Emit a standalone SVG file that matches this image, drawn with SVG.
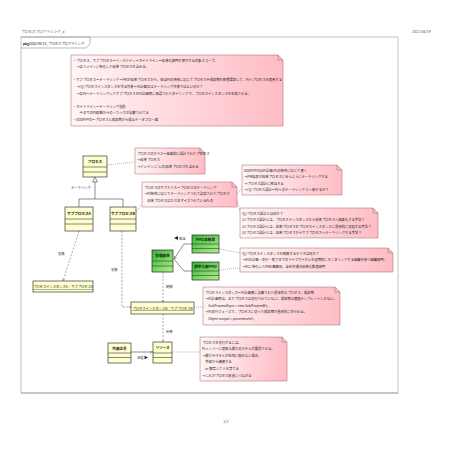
<svg xmlns="http://www.w3.org/2000/svg" width="453" height="453" viewBox="0 0 453 453">
<defs>
<linearGradient id="ng" x1="0" y1="0" x2="1" y2="0"><stop offset="0" stop-color="#fff5f5"/><stop offset="1" stop-color="#ffbcc4"/></linearGradient>
<linearGradient id="gg" x1="0" y1="0" x2="1" y2="1"><stop offset="0" stop-color="#2fb82f"/><stop offset="1" stop-color="#b4f08c"/></linearGradient>
<marker id="open" viewBox="0 0 10 10" refX="10" refY="5" markerWidth="5" markerHeight="5" orient="auto"><path d="M0,1 L10,5 L0,9" fill="none" stroke="#444" stroke-width="1.4"/></marker>
</defs>
<style>
.t{font-family:"Noto Sans CJK JP","Noto Sans",sans-serif;font-size:3.3px;fill:#222}
.b{font-weight:bold;font-size:3.6px;text-anchor:middle}
.m{text-anchor:middle}
.u{text-decoration:underline}
.hd{font-size:3.6px;fill:#555}
.note{fill:url(#ng);stroke:#a0606c;stroke-width:0.5}
.fold{fill:none;stroke:#a0606c;stroke-width:0.5}
.cls{fill:#fefece;stroke:#3a3a3a;stroke-width:0.7}
.grn{fill:url(#gg);stroke:#2a2a2a;stroke-width:0.7}
.sep{stroke:#3a3a3a;stroke-width:0.6}
.dot{fill:none;stroke:#666;stroke-width:0.5;stroke-dasharray:1 1}
.dash{fill:none;stroke:#555;stroke-width:0.5;stroke-dasharray:2 1.5}
.sol{fill:none;stroke:#444;stroke-width:0.6}
</style>
<rect width="453" height="453" fill="#fff"/>
<g id="page">
<text class="t hd" x="21" y="33">プロセスプログラミング_a</text>
<text class="t hd" x="412" y="33">2022/06/19</text>
<rect x="21" y="37" width="377" height="356" fill="none" stroke="#999" stroke-width="0.6"/>
<line x1="21" y1="393" x2="398" y2="393" stroke="#aaa" stroke-width="1.2"/>
<path d="M21,37 H90 V44 L86,48 H21" fill="none" stroke="#888" stroke-width="0.6"/>
<text class="t" x="23" y="45"><tspan font-weight="bold">pkg</tspan>2022/06/15_プロセスプログラミング</text>
<text class="t hd m" x="226" y="423">1/1</text>
</g>

<g id="connectors">
<path class="dot" d="M107,165 L135,162"/>
<path class="sol" d="M95,182 V199 M79,199 H123 M79,199 V207 M123,199 V207"/>
<path d="M95,177 L92.5,182 L97.5,182 Z" fill="#fff" stroke="#444" stroke-width="0.6"/>
<text class="t" x="71" y="189">テーラリング</text>
<path class="dot" d="M136,212 L142,204"/>
<path class="dot" d="M237,194 L242,188"/>
<path class="dot" d="M237,200 L240,211"/>
<path class="dash" d="M79,231 L63,281" marker-end="url(#open)"/>
<text class="t" x="58" y="255">実装</text>
<path class="dash" d="M122,231 V307 H131" marker-end="url(#open)"/>
<text class="t" x="111" y="271">実装</text>
<path class="sol" d="M192,244 H184 L174,259" marker-end="url(#open)"/>
<path class="sol" d="M192,271 H184 L174,259"/>
<path d="M174,238 L178,236 L178,240 Z" fill="#222"/>
<text class="t" x="179" y="239.5">担当</text>
<path class="dot" d="M219,249 L240,253"/>
<path class="dot" d="M219,270 L240,268"/>
<path class="dash" d="M163,272 V302" marker-end="url(#open)"/>
<text class="t" x="166" y="288">制御</text>
<path class="dot" d="M194,307 H203"/>
<path class="dash" d="M163,314 V342" marker-end="url(#open)"/>
<text class="t" x="166" y="333">利用</text>
<path class="sol" d="M131,352 H153" marker-end="url(#open)"/>
<text class="t" x="137" y="358.5">派遣</text>
<path d="M144.5,355.7 L148,357.5 L144.5,359.3 Z" fill="#222"/>
<path class="dot" d="M172,352 H200"/>
</g>

<g id="note-top">
<path class="note" d="M71,55 H278 L283,60 V126 H71 Z"/><path class="fold" d="M278,55 V60 H283"/>
<text class="t" x="73" y="61.5">・プロセス、サブプロセス＝ベースライン＝ガイドライン＝標準化部門が保守する対象スコープ。</text>
<text class="t" x="73" y="68.1">　→各ドメインに特化した標準プロセスを含める。</text>
<text class="t" x="73" y="81.3">・サブプロセス＝テーラリング＝PMが標準プロセスから、担当PJの特性に応じてプロセスや成果物を取捨選択して、PJへプロセスを適用する</text>
<text class="t" x="73" y="87.9">　→(Q)プロセスインスタンスを作る作業＝PJ計画又はテーラリング作業ではないのか？</text>
<text class="t" x="73" y="94.5">　→各PJへテーラリングしたサブプロセスをPJ計画時に承認されたタイミングで、プロセスインスタンスを生成される。</text>
<text class="t" x="73" y="107.7">・ガイドライン＝テーラリング指針</text>
<text class="t" x="73" y="114.3">　　今までのPJ経験からのノウハウが記載されてる</text>
<text class="t" x="73" y="120.9">・XDDP/PFD＝プロセスと成果物から成るデータフロー図</text>
</g>

<g id="node-process">
<rect class="cls" x="83" y="156" width="24" height="21"/>
<line class="sep" x1="83" y1="167" x2="107" y2="167"/><line class="sep" x1="83" y1="172" x2="107" y2="172"/>
<text class="t b" x="95" y="163">プロセス</text>
</g>
<g id="note-process">
<path class="note" d="M135,148 H200 L205,153 V174 H135 Z"/><path class="fold" d="M200,148 V153 H205"/>
<text class="t" x="137" y="154.5">プロセスのクラス＝抽象的に設計されたプロセス</text>
<text class="t" x="137" y="161.1">→標準プロセス</text>
<text class="t" x="137" y="167.7">→ドメイン(ごとの)標準プロセスも含める</text>
</g>

<g id="node-subA">
<rect class="cls" x="65" y="207" width="28" height="24"/>
<line class="sep" x1="65" y1="219" x2="93" y2="219"/><line class="sep" x1="65" y1="224" x2="93" y2="224"/>
<text class="t b" x="79" y="214.5">サブプロセスA</text>
</g>
<g id="node-subB">
<rect class="cls" x="110" y="207" width="26" height="24"/>
<line class="sep" x1="110" y1="219" x2="136" y2="219"/><line class="sep" x1="110" y1="224" x2="136" y2="224"/>
<text class="t b" x="123" y="214.5">サブプロセスB</text>
</g>
<g id="note-subB">
<path class="note" d="M142,182 H232 L237,187 V207 H142 Z"/><path class="fold" d="M232,182 V187 H237"/>
<text class="t" x="144" y="188.5">プロセスのサブクラス＝プロセスのテーラリング</text>
<text class="t" x="144" y="195.1">→PJ特性に応じてテーラリングされて記述されたプロセス</text>
<text class="t" x="144" y="201.7">　標準プロセスはカスタマイズされているもの</text>
</g>

<g id="note-xddp">
<path class="note" d="M242,165 H337 L342,170 V195 H242 Z"/><path class="fold" d="M337,165 V170 H342"/>
<text class="t" x="244" y="171.5">XDDP/PFDはPJ計画(PJの特性に応じて書く</text>
<text class="t" x="244" y="178.1">→PM自身が標準プロセスに合うようにテーラリングする</text>
<text class="t" x="244" y="184.7">→プロセス設計に相当する</text>
<text class="t" x="244" y="191.3">→(Q)プロセス設計＝PJへのテーラリング と一致するか？</text>
</g>
<g id="note-design">
<path class="note" d="M240,208 H373 L378,213 V238 H240 Z"/><path class="fold" d="M373,208 V213 H378"/>
<text class="t" x="242" y="214.5">(Q)プロセス設計とは何か？</text>
<text class="t" x="242" y="221.1">(1)プロセス設計とは、プロセスインスタンスから標準プロセスへ抽象化する手法？</text>
<text class="t" x="242" y="227.7">(2)プロセス設計とは、標準プロセスをプロセスインスタンスに具体的に実現する手法？</text>
<text class="t" x="242" y="234.3">(3)プロセス設計とは、標準プロセスからサブプロセスへテーラリングする手法？</text>
</g>

<g id="node-kanri">
<rect class="grn" x="152" y="250" width="21" height="22"/>
<line class="sep" x1="152" y1="261" x2="173" y2="261"/><line class="sep" x1="152" y1="266" x2="173" y2="266"/>
<text class="t b" x="162.5" y="257">管理部署</text>
</g>
<g id="node-pmo">
<rect class="grn" x="192" y="235" width="27" height="18"/>
<line class="sep" x1="192" y1="244" x2="219" y2="244"/><line class="sep" x1="192" y1="248.5" x2="219" y2="248.5"/>
<text class="t b" x="205.5" y="241">PMO事務局</text>
</g>
<g id="node-stdpmo">
<rect class="grn" x="192" y="262" width="27" height="18"/>
<line class="sep" x1="192" y1="271" x2="219" y2="271"/><line class="sep" x1="192" y1="275.5" x2="219" y2="275.5"/>
<text class="t b" x="205.5" y="268">標準化部PMO</text>
</g>
<g id="note-pmo">
<path class="note" d="M240,248 H388 L393,253 V272 H240 Z"/><path class="fold" d="M388,248 V253 H393"/>
<text class="t" x="242" y="254.5">(Q)プロセスインスタンスを制御するクラスは何か？</text>
<text class="t" x="242" y="261.1">→PJの計画・実行・終了までのライフサイクルを定期的にモニタリングする組織を持つ組織部門。</text>
<text class="t" x="242" y="267.7">→PJに特化したPMO事務局、全社共通の標準化推進部門</text>
</g>

<g id="node-instA">
<rect class="cls" x="33" y="281" width="60" height="11"/>
<text class="t m u" x="63" y="288">プロセスインスタンスA：サブプロセスA</text>
</g>
<g id="node-instB">
<rect class="cls" x="131" y="302" width="63" height="12"/>
<text class="t m u" x="162.5" y="309.5">プロセスインスタンスB：サブプロセスB</text>
</g>
<g id="note-instB">
<path class="note" d="M203,287 H335 L340,292 V325 H203 Z"/><path class="fold" d="M335,287 V292 H340"/>
<text class="t" x="205" y="293.5">プロセスインスタンス＝PJ計画書に記載された具体的なプロセス、成果物</text>
<text class="t" x="205" y="300.1">→PJ計画時は、まだプロセスは実行されていない。成果物は書類テンプレートしかない。</text>
<text class="t" x="205" y="306.7">　SubProcessB pro = new SubProcessB();</text>
<text class="t" x="205" y="313.3">→PJ実行フェーズで、プロセスに従った成果物が具体的に作られる。</text>
<text class="t" x="205" y="319.9">　Object output = pro.execute();</text>
</g>

<g id="node-gaibu">
<rect class="cls" x="108" y="343" width="23" height="20"/>
<line class="sep" x1="108" y1="353" x2="131" y2="353"/><line class="sep" x1="108" y1="357.5" x2="131" y2="357.5"/>
<text class="t b" x="119.5" y="349.5">外部企業</text>
</g>
<g id="node-resource">
<rect class="cls" x="153" y="342" width="19" height="21"/>
<line class="sep" x1="153" y1="353" x2="172" y2="353"/><line class="sep" x1="153" y1="357.5" x2="172" y2="357.5"/>
<text class="t b" x="162.5" y="349">リソース</text>
</g>
<g id="note-resource">
<path class="note" d="M200,337 H282 L287,342 V381 H200 Z"/><path class="fold" d="M282,337 V342 H287"/>
<text class="t" x="202" y="343.5">プロセスを実行するには、</text>
<text class="t" x="202" y="350.1">PJメンバーに適格な能力のスキルが要求される。</text>
<text class="t" x="202" y="356.7">→能力やスキルが社内に揃わない場合、</text>
<text class="t" x="202" y="363.3">　外部から調達する</text>
<text class="t" x="202" y="369.9">　or 教育して人を育てる</text>
<text class="t" x="202" y="376.5">→これがプロセス改善につながる</text>
</g>
</svg>
